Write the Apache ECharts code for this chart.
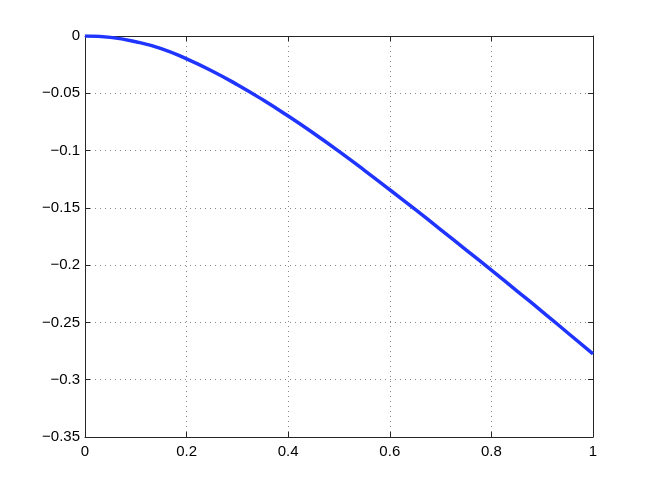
<!DOCTYPE html>
<html>
<head>
<meta charset="utf-8">
<script src="https://cdn.jsdelivr.net/npm/echarts@6/dist/echarts.min.js"></script>
<style>html,body{margin:0;padding:0;background:#fff}#c{width:654px;height:492px}</style>
</head>
<body>
<div id="c"></div>
<script>
const xValues = [0, 0.05, 0.1, 0.15, 0.2, 0.25, 0.3, 0.35, 0.4, 0.45, 0.5, 0.55, 0.6, 0.65, 0.7, 0.75, 0.8, 0.85, 0.9, 0.95, 1.0];
const yValues = [0, -0.0012, -0.005, -0.011, -0.0200, -0.0305, -0.0425, -0.0557, -0.0699, -0.0849, -0.1007, -0.1172, -0.1342, -0.1514, -0.1689, -0.1866, -0.2044, -0.2224, -0.2405, -0.2590, -0.2775];
const xTicks = [0, 0.2, 0.4, 0.6, 0.8, 1];
const yTicks = [0, -0.05, -0.1, -0.15, -0.2, -0.25, -0.3, -0.35];

const chart = echarts.init(document.getElementById('c'), null, {renderer: 'canvas'});
const fmt = v => {
  const r = Math.round(v * 100) / 100;
  return String(r).replace('-', '\u2212');
};
const labelStyle = {color: '#000', fontFamily: 'Liberation Sans, Arial, sans-serif', fontSize: 15};
const axisLine = {show: true, onZero: false, lineStyle: {color: '#262626', width: 1}};
const tick = {show: true, inside: true, length: 5, lineStyle: {color: '#262626'}};
const grid = {show: true, lineStyle: {color: '#888', type: [1, 4], width: 1}};

chart.setOption({
  animation: false,
  backgroundColor: '#fff',
  grid: {left: 85, right: 61, top: 36, bottom: 55, containLabel: false},
  xAxis: [
    {type: 'value', min: 0, max: 1, interval: 0.2, position: 'bottom',
     axisLine, axisTick: tick, splitLine: grid,
     axisLabel: Object.assign({margin: 7, formatter: fmt}, labelStyle)},
    {type: 'value', min: 0, max: 1, interval: 0.2, position: 'top',
     axisLine, axisTick: tick, splitLine: {show: false}, axisLabel: {show: false}}
  ],
  yAxis: [
    {type: 'value', min: -0.35, max: 0, interval: 0.05, position: 'left',
     axisLine, axisTick: tick, splitLine: grid,
     axisLabel: Object.assign({margin: 5, formatter: fmt}, labelStyle)},
    {type: 'value', min: -0.35, max: 0, interval: 0.05, position: 'right',
     axisLine, axisTick: tick, splitLine: {show: false}, axisLabel: {show: false}}
  ],
  series: [{
    type: 'line',
    data: xValues.map((x, i) => [x, yValues[i]]),
    smooth: 0.5,
    showSymbol: false,
    symbol: 'none',
    lineStyle: {color: '#1f35ff', width: 3.5},
    z: 10
  }]
});
</script>
</body>
</html>
